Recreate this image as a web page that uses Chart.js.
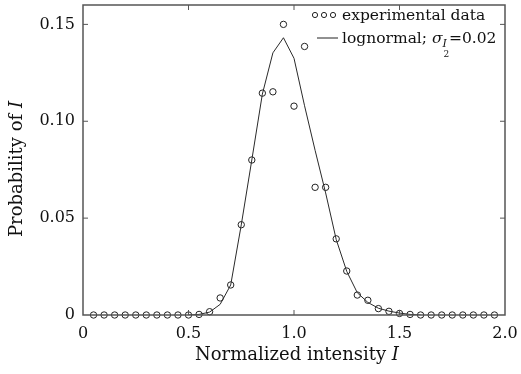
<!DOCTYPE html>
<html>
<head>
<meta charset="utf-8">
<script src="https://cdn.jsdelivr.net/npm/chart.js@4.4.1/dist/chart.umd.min.js"></script>
<style>
  html, body { margin: 0; padding: 0; background: #fff; }
  #wrap { width: 521px; height: 374px; position: relative; }
</style>
</head>
<body>
<div id="wrap"><canvas id="myChart"></canvas></div>
<script>
// experimental histogram (bin centres) and lognormal fit
const expX = [0.05, 0.10, 0.15, 0.20, 0.25, 0.30, 0.35, 0.40, 0.45, 0.50,
              0.55, 0.60, 0.65, 0.70, 0.75, 0.80, 0.85, 0.90, 0.95, 1.00,
              1.05, 1.10, 1.15, 1.20, 1.25, 1.30, 1.35, 1.40, 1.45, 1.50,
              1.55, 1.60, 1.65, 1.70, 1.75, 1.80, 1.85, 1.90, 1.95];
const expY = [0, 0, 0, 0, 0, 0, 0, 0, 0, 0,
              0.0003, 0.0017, 0.0088, 0.0155, 0.0466, 0.080, 0.1145, 0.1152, 0.150, 0.1078,
              0.1386, 0.0659, 0.0659, 0.0393, 0.0227, 0.0103, 0.0076, 0.0033, 0.0019, 0.0008,
              0.0003, 0, 0, 0, 0, 0, 0, 0, 0];

const fitX = [0.50, 0.55, 0.60, 0.65, 0.70, 0.75, 0.80, 0.85, 0.90, 0.95, 1.00, 1.05,
              1.10, 1.15, 1.20, 1.25, 1.30, 1.35, 1.40, 1.45, 1.50, 1.55, 1.60];
const fitY = [0, 0.0003, 0.0015, 0.0055, 0.0155, 0.0465, 0.080, 0.114, 0.1353, 0.1431, 0.1325, 0.108,
              0.085, 0.063, 0.039, 0.0225, 0.0115, 0.0065, 0.0035, 0.002, 0.001, 0.0003, 0];

const xTicks = [0, 0.5, 1.0, 1.5, 2.0];
const yTicks = [0, 0.05, 0.10, 0.15];

const serif = "'DejaVu Serif', serif";

// draw "text" followed by an italic "I", centred on (0,0) of the current transform
function titleWithI(ctx, text, size) {
  ctx.font = size + 'px ' + serif;
  const w1 = ctx.measureText(text).width;
  ctx.font = 'italic ' + size + 'px ' + serif;
  const w2 = ctx.measureText('I').width;
  let x0 = -(w1 + w2) / 2;
  ctx.font = size + 'px ' + serif;
  ctx.fillText(text, x0, 0);
  ctx.font = 'italic ' + size + 'px ' + serif;
  ctx.fillText('I', x0 + w1, 0);
}

// frame, inward tick marks, axis titles and the legend
const framePlugin = {
  id: 'frame',
  afterDraw(chart) {
    const { ctx, chartArea: a, scales: { x, y } } = chart;
    ctx.save();
    ctx.strokeStyle = '#555';
    ctx.lineWidth = 1.5;
    ctx.strokeRect(a.left, a.top, a.width, a.height);

    ctx.lineWidth = 1;
    ctx.beginPath();
    xTicks.slice(1, -1).forEach(v => {
      const px = x.getPixelForValue(v);
      ctx.moveTo(px, a.bottom); ctx.lineTo(px, a.bottom - 5);
      ctx.moveTo(px, a.top); ctx.lineTo(px, a.top + 5);
    });
    yTicks.slice(1).forEach(v => {
      const py = y.getPixelForValue(v);
      ctx.moveTo(a.left, py); ctx.lineTo(a.left + 5, py);
      ctx.moveTo(a.right, py); ctx.lineTo(a.right - 5, py);
    });
    ctx.stroke();

    // axis titles
    ctx.fillStyle = '#111';
    ctx.textBaseline = 'alphabetic';
    ctx.save();
    ctx.translate(297, 360);
    titleWithI(ctx, 'Normalized intensity ', 18);
    ctx.restore();
    ctx.save();
    ctx.translate(22, 169);
    ctx.rotate(-Math.PI / 2);
    titleWithI(ctx, 'Probability of ', 18);
    ctx.restore();

    // legend
    const lx = 342, y1 = 15, y2 = 38;
    ctx.strokeStyle = '#222';
    ctx.lineWidth = 1;
    [315, 324, 333].forEach(cx => {
      ctx.beginPath(); ctx.arc(cx, y1, 2.6, 0, Math.PI * 2); ctx.stroke();
    });
    ctx.beginPath(); ctx.moveTo(317, y2); ctx.lineTo(338, y2); ctx.stroke();

    ctx.font = '15.5px ' + serif;
    ctx.fillText('experimental data', lx, y1 + 5);
    let cx = lx;
    const t1 = 'lognormal; ';
    ctx.fillText(t1, cx, y2 + 5); cx += ctx.measureText(t1).width;
    ctx.font = 'italic 15.5px ' + serif;
    ctx.fillText('σ', cx, y2 + 5); cx += ctx.measureText('σ').width;
    ctx.font = 'italic 11px ' + serif;
    ctx.fillText('I', cx, y2 + 9); const iw = ctx.measureText('I').width;
    ctx.font = '9px ' + serif;
    ctx.fillText('2', cx + 1, y2 + 19); cx += iw + 2;
    ctx.font = '15.5px ' + serif;
    ctx.fillText('=0.02', cx, y2 + 5);
    ctx.restore();
  }
};

const ctx = document.getElementById('myChart');

new Chart(ctx, {
  type: 'scatter',
  data: {
    datasets: [
      {
        label: 'lognormal',
        data: fitX.map((v, i) => ({ x: v, y: fitY[i] })),
        showLine: true,
        borderColor: '#2a2a2a',
        borderWidth: 1,
        pointRadius: 0,
        tension: 0
      },
      {
        label: 'experimental data',
        data: expX.map((v, i) => ({ x: v, y: expY[i] })),
        showLine: false,
        pointStyle: 'circle',
        pointRadius: 3.2,
        borderWidth: 1,
        borderColor: '#222',
        backgroundColor: 'rgba(0,0,0,0)',
        clip: false
      }
    ]
  },
  options: {
    responsive: true,
    maintainAspectRatio: false,
    animation: false,
    layout: { padding: { top: 4, right: 16, left: 0, bottom: 0 } },
    plugins: {
      legend: { display: false },
      tooltip: { enabled: false }
    },
    scales: {
      x: {
        type: 'linear',
        min: 0,
        max: 2,
        afterBuildTicks: s => { s.ticks = xTicks.map(v => ({ value: v })); },
        afterFit: s => { s.height = 59; s.paddingLeft = 0; s.paddingRight = 0; },
        grid: { display: true, drawOnChartArea: false, drawTicks: false },
        border: { display: false },
        ticks: {
          padding: 9,
          color: '#111',
          font: { family: serif, size: 16 },
          maxRotation: 0,
          callback: v => v === 0 ? '0' : v.toFixed(1)
        },
        title: { display: false }
      },
      y: {
        min: 0,
        max: 0.16,
        afterBuildTicks: s => { s.ticks = yTicks.map(v => ({ value: v })); },
        afterFit: s => { s.width = 83; s.paddingTop = 0; s.paddingBottom = 0; },
        grid: { display: true, drawOnChartArea: false, drawTicks: false },
        border: { display: false },
        ticks: {
          padding: 8,
          color: '#111',
          font: { family: serif, size: 16 },
          callback: v => v === 0 ? '0' : v.toFixed(2)
        },
        title: { display: false }
      }
    }
  },
  plugins: [framePlugin]
});
</script>
</body>
</html>
